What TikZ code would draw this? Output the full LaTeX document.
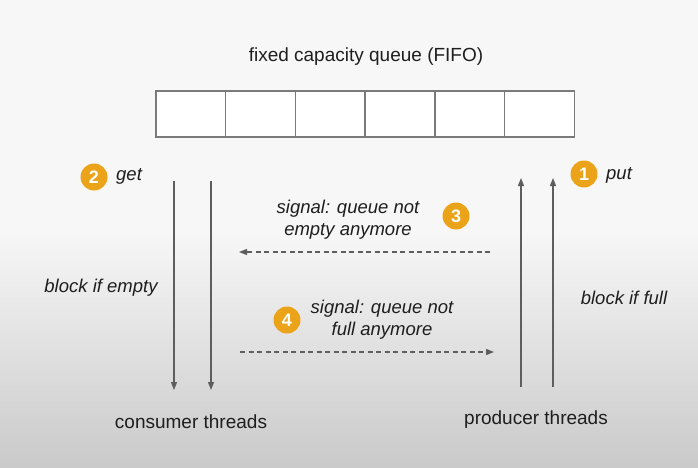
\documentclass[tikz,border=0pt]{standalone}
\usepackage{fontspec}
\setmainfont{Liberation Sans}
\usepackage{xcolor}
\usetikzlibrary{positioning,arrows.meta}

\definecolor{badge}{HTML}{EBA41A}
\definecolor{ink}{HTML}{1E1E1E}
\definecolor{wire}{HTML}{5E5E5E}
\definecolor{cellline}{HTML}{7A7A7A}

\begin{document}
\begin{tikzpicture}[
    x=1pt, y=-1pt,
    every node/.style = {text=ink, font=\fontsize{19}{22}\selectfont, inner sep=0pt},
    cell/.style = {draw=cellline, line width=1.4pt, fill=white, outer sep=0pt, minimum width=69.7pt, minimum height=46pt},
    badge/.style = {circle, fill=badge, minimum size=27pt, text=white, font=\fontsize{18}{18}\selectfont\bfseries},
    note/.style = {font=\fontsize{18.5}{22}\selectfont\itshape, align=center},
    flow/.style = {draw=wire, line width=1.3pt, -{Triangle[length=8pt,width=6pt]}},
    signal/.style = {flow, line width=1.2pt, dash pattern=on 5pt off 3.5pt}
  ]
  % background
  \fill[white!97!black] (0,0) rectangle (698,230);
  \shade[top color=white!97!black, bottom color=white!79!black] (0,230) rectangle (698,468);
  \useasboundingbox (0,0) rectangle (698,468);

  % the queue
  \node (title) at (366,57) {fixed capacity queue (FIFO)};
  \node[cell, anchor=north west] (q1) at (156,91) {};
  \node[cell, right=0pt of q1] (q2) {};
  \node[cell, right=0pt of q2] (q3) {};
  \node[cell, right=0pt of q3] (q4) {};
  \node[cell, right=0pt of q4] (q5) {};
  \node[cell, right=0pt of q5] (q6) {};

  % consumer side
  \node[badge] (b2) at (94,177) {2};
  \node[note, anchor=west] (get) at (116,176) {get};
  \node[note] (empty) at (101,288) {block if empty};
  \coordinate (ca) at (174,181);
  \coordinate (cb) at (174,390);
  \coordinate (cc) at (211,181);
  \coordinate (cd) at (211,390);
  \node (consumer) at (191,422) {consumer threads};

  % producer side
  \node[badge] (b1) at (584,174) {1};
  \node[note, anchor=west] (put) at (606,175) {put};
  \node[note] (full) at (624,298) {block if full};
  \coordinate (pa) at (521,387);
  \coordinate (pb) at (521,178);
  \coordinate (pc) at (553,387);
  \coordinate (pd) at (553,178);
  \node (producer) at (536,420) {producer threads};

  % signals
  \node[note] (s3) at (348,220) {signal: queue not\\empty anymore};
  \node[badge] (b3) at (456,216) {3};
  \coordinate (s3a) at (490,252);
  \coordinate (s3b) at (239,252);
  \node[note] (s4) at (382,320) {signal: queue not\\full anymore};
  \node[badge] (b4) at (287,320) {4};
  \coordinate (s4a) at (240,352);
  \coordinate (s4b) at (494,352);

  \draw[flow] (ca) -- (cb);
  \draw[flow] (cc) -- (cd);
  \draw[flow] (pa) -- (pb);
  \draw[flow] (pc) -- (pd);
  \draw[signal] (s3a) -- (s3b);
  \draw[signal] (s4a) -- (s4b);
\end{tikzpicture}
\end{document}
